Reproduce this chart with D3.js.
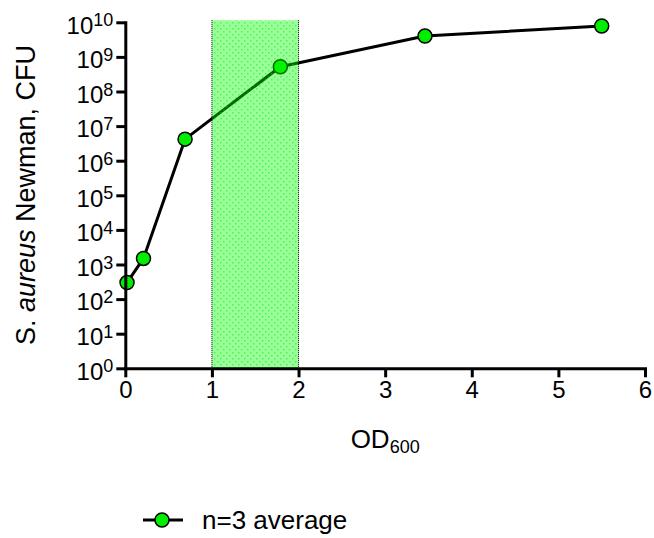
<!DOCTYPE html>
<html>
<head>
<meta charset="utf-8">
<script src="https://cdn.jsdelivr.net/npm/d3@7"></script>
<style>
  body { margin: 0; background: #fff; }
  svg { display: block; font-family: "Liberation Sans", Arial, sans-serif; }
</style>
</head>
<body>
<svg id="chart" width="654" height="538"></svg>
<script>
  // data
  var odValues = [0.02, 0.21, 0.69, 1.79, 3.46, 5.5];
  var cfuValues = [300, 1500, 4.2e6, 5.2e8, 4.0e9, 7.8e9];
  var shadedRange = [1, 2];
  var shadedTop = 1.15e10;
  var xTicks = [0, 1, 2, 3, 4, 5, 6];
  var yExponents = [0, 1, 2, 3, 4, 5, 6, 7, 8, 9, 10];
  var legendLabel = "n=3 average";

  var svg = d3.select("#chart");
  var x = d3.scaleLinear().domain([0, 6]).range([125.3, 645]);
  var y = d3.scaleLog().domain([1, 1e10]).range([368.3, 22.3]);

  var defs = svg.append("defs");
  var pat = defs.append("pattern")
    .attr("id", "dots")
    .attr("patternUnits", "userSpaceOnUse")
    .attr("width", 6)
    .attr("height", 6);
  pat.append("rect").attr("width", 6).attr("height", 6).attr("fill", "#00ff00").attr("fill-opacity", 0.4);
  pat.append("rect").attr("x", 1).attr("y", 1).attr("width", 1.5).attr("height", 1.5).attr("fill", "#00e000").attr("fill-opacity", 0.45);
  pat.append("rect").attr("x", 4).attr("y", 4).attr("width", 1.5).attr("height", 1.5).attr("fill", "#00e000").attr("fill-opacity", 0.45);

  // line + points
  var pts = odValues.map(function(d, i) { return { x: d, y: cfuValues[i] }; });
  var line = d3.line().x(function(d) { return x(d.x) }).y(function(d) { return y(d.y) });

  svg.append("path")
    .attr("d", line(pts))
    .attr("fill", "none")
    .attr("stroke", "#000")
    .attr("stroke-width", 3)
    .attr("stroke-linejoin", "round");

  svg.append("g").selectAll("circle").data(pts).enter().append("circle")
    .attr("cx", function(d) { return x(d.x) })
    .attr("cy", function(d) { return y(d.y) })
    .attr("r", 7)
    .attr("fill", "#00ee00")
    .attr("stroke", "#000")
    .attr("stroke-width", 1.5);

  // shaded band, drawn on top and translucent like the original
  var band = svg.append("g");
  band.append("rect")
    .attr("x", x(shadedRange[0]))
    .attr("y", y(shadedTop))
    .attr("width", x(shadedRange[1]) - x(shadedRange[0]))
    .attr("height", y(1) - y(shadedTop))
    .attr("fill", "url(#dots)");
  band.selectAll("line").data(shadedRange).enter().append("line")
    .attr("x1", function(d) { return x(d) })
    .attr("x2", function(d) { return x(d) })
    .attr("y1", y(shadedTop))
    .attr("y2", y(1))
    .attr("stroke", "#000")
    .attr("stroke-width", 1)
    .attr("stroke-dasharray", "1,1");

  // axes
  var xAxis = svg.append("g")
    .attr("transform", "translate(0," + y(1) + ")")
    .call(d3.axisBottom(x).tickValues(xTicks).tickFormat(d3.format("d")).tickSize(9).tickSizeOuter(0).tickPadding(4));
  var yAxis = svg.append("g")
    .attr("transform", "translate(" + x(0) + ",0)")
    .call(d3.axisLeft(y).tickValues(yExponents.map(function(e) { return Math.pow(10, e) })).tickSize(9).tickSizeOuter(0).tickFormat(""));

  [xAxis, yAxis].forEach(function(a) {
    a.select(".domain").attr("stroke-width", 3).attr("stroke-linecap", "square");
    a.selectAll(".tick line").attr("stroke-width", 3);
  });
  xAxis.selectAll(".tick text").attr("font-size", 24).attr("fill", "#000")
    .attr("font-family", "Liberation Sans, Arial, sans-serif");

  yAxis.selectAll(".tick").each(function(d) {
    var t = d3.select(this).append("text")
      .attr("x", -12)
      .attr("dy", "0.45em")
      .attr("text-anchor", "end")
      .attr("fill", "#000")
      .attr("font-size", 24)
      .attr("font-family", "Liberation Sans, Arial, sans-serif");
    t.append("tspan").text("10");
    t.append("tspan").attr("dy", "-0.4em").attr("font-size", 18).text(Math.round(Math.log10(d)));
  });

  // axis titles
  var xt = svg.append("text")
    .attr("x", x(3))
    .attr("y", 448)
    .attr("text-anchor", "middle")
    .attr("font-size", 26);
  xt.append("tspan").text("OD");
  xt.append("tspan").attr("dy", "0.3em").attr("font-size", 18).text("600");

  var yt = svg.append("text")
    .attr("transform", "translate(35," + 195 + ") rotate(-90)")
    .attr("text-anchor", "middle")
    .attr("font-size", 27);
  yt.append("tspan").text("S. ");
  yt.append("tspan").attr("font-style", "italic").text("aureus");
  yt.append("tspan").text(" Newman, CFU");

  // legend
  var lg = svg.append("g").attr("transform", "translate(162,520)");
  lg.append("line").attr("x1", -19).attr("x2", 21).attr("stroke", "#000").attr("stroke-width", 3);
  lg.append("circle").attr("r", 7).attr("fill", "#00ee00").attr("stroke", "#000").attr("stroke-width", 1.5);
  lg.append("text").attr("x", 40).attr("dy", "0.35em").attr("font-size", 26).text(legendLabel);
</script>
</body>
</html>
